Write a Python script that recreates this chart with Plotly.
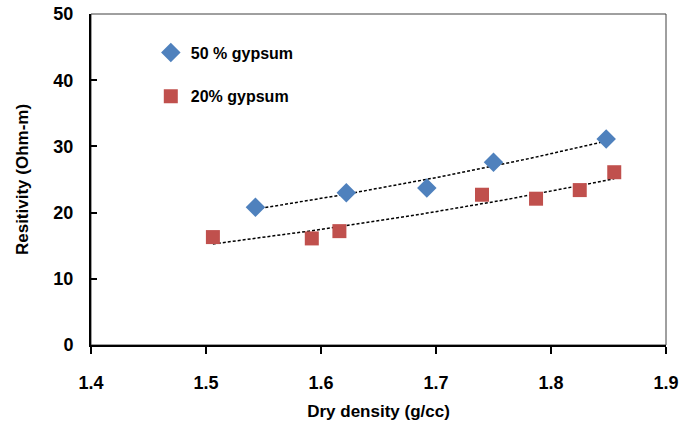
import numpy as np
import plotly.graph_objects as go

x50 = [1.543, 1.622, 1.692, 1.750, 1.848]
y50 = [20.8, 23.0, 23.7, 27.6, 31.1]
x20 = [1.506, 1.592, 1.616, 1.740, 1.787, 1.825, 1.855]
y20 = [16.3, 16.1, 17.2, 22.7, 22.1, 23.4, 26.1]

xticks = [1.4, 1.5, 1.6, 1.7, 1.8, 1.9]
yticks = [0, 10, 20, 30, 40, 50]

name50 = "50 % gypsum"
name20 = "20% gypsum"
xtitle = "Dry density (g/cc)"
ytitle = "Resitivity (Ohm-m)"

BLUE = "#4F81BD"
RED = "#C0504D"
FONT = "Liberation Sans"


def exp_trend(xs, ys, n=60):
    xs = np.array(xs)
    b, a = np.polyfit(xs, np.log(ys), 1)
    xt = np.linspace(xs.min(), xs.max(), n)
    return xt, np.exp(a + b * xt)


fig = go.Figure()
for xs, ys in [(x50, y50), (x20, y20)]:
    xt, yt = exp_trend(xs, ys)
    fig.add_trace(go.Scatter(x=xt, y=yt, mode="lines", showlegend=False,
                             line=dict(color="black", width=1.5, dash="3px,2px"),
                             hoverinfo="skip"))

fig.add_trace(go.Scatter(x=x50, y=y50, mode="markers", name="<b>" + name50 + "</b>",
                         legendgroup="a",
                         marker=dict(symbol="diamond", size=15, color=BLUE,
                                     line=dict(width=0))))
fig.add_trace(go.Scatter(x=x20, y=y20, mode="markers", name="<b>" + name20 + "</b>",
                         legendgroup="b",
                         marker=dict(symbol="square", size=14, color=RED,
                                     line=dict(width=0))))

fig.add_shape(type="rect", xref="paper", yref="paper", x0=0, x1=1, y0=0, y1=1,
              line=dict(color="#404040", width=1), layer="below")

fig.update_layout(
    width=681, height=430,
    margin=dict(l=91, r=15, t=14, b=85),
    paper_bgcolor="white", plot_bgcolor="white",
    font=dict(family=FONT, color="black", size=16),
    legend=dict(x=0.104, y=0.935, xanchor="left", yanchor="top",
                itemwidth=30,
                font=dict(family=FONT, size=16, color="black"),
                tracegroupgap=20, bgcolor="rgba(0,0,0,0)"),
    xaxis=dict(range=[1.4, 1.9], tickvals=xticks,
               ticktext=["<b>%.1f</b>" % v for v in xticks],
               automargin=False,
               showgrid=False, zeroline=False, showline=True, linecolor="black",
               linewidth=2, ticks="outside", ticklen=7, tickwidth=1.5, tickcolor="black",
               tickfont=dict(family=FONT, size=18),
               ticklabelstandoff=13,
               title=dict(text="<b>" + xtitle + "</b>", standoff=14,
                          font=dict(family=FONT, size=17))),
    yaxis=dict(range=[0, 50], tickvals=yticks,
               ticktext=["<b>%d</b>" % v for v in yticks],
               automargin=False,
               showgrid=False, zeroline=False, showline=True, linecolor="black",
               linewidth=2, ticks="inside", ticklen=6, tickwidth=1.5, tickcolor="black",
               tickfont=dict(family=FONT, size=18),
               ticklabelstandoff=12,
               title=dict(text="<b>" + ytitle + "</b>", standoff=20,
                          font=dict(family=FONT, size=17))),
)

fig.write_html("out.html", config={"displayModeBar": False},
               post_script="document.body.style.margin='0';")
